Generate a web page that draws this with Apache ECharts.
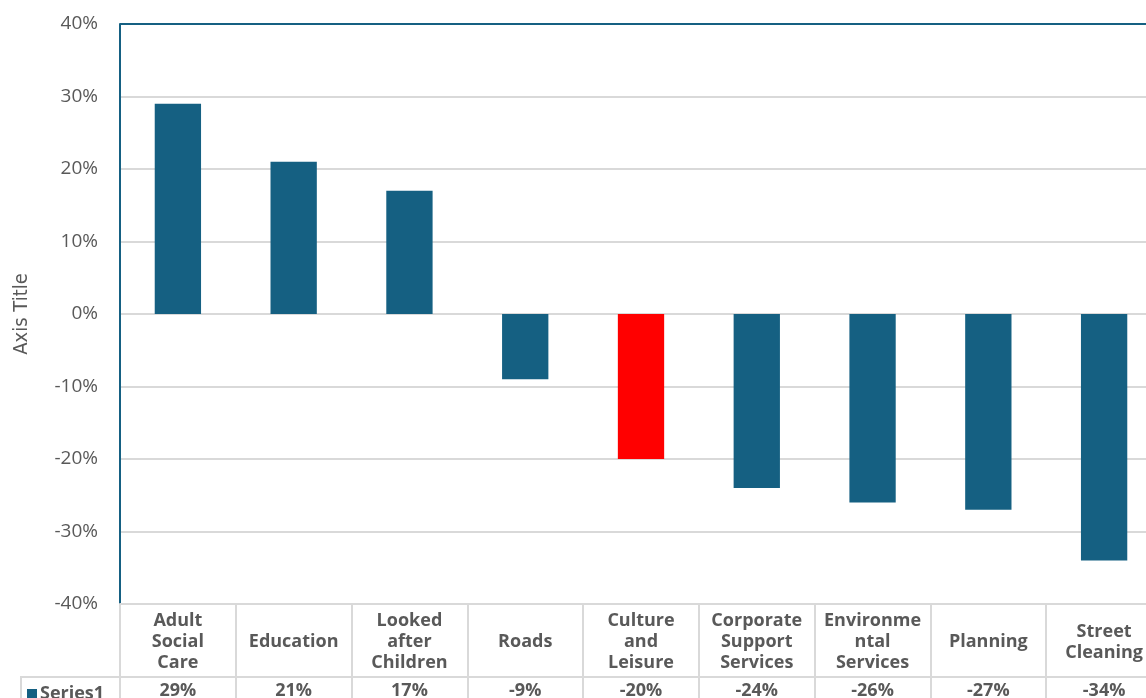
<!DOCTYPE html>
<html><head><meta charset="utf-8">
<script src="https://cdn.jsdelivr.net/npm/echarts@6/dist/echarts.min.js"></script>
<style>html,body{margin:0;padding:0;background:#fff;}#c{width:1146px;height:698px;}</style>
</head><body><div id="c"></div>
<script>
const categories = ['Adult\nSocial\nCare','Education','Looked\nafter\nChildren','Roads','Culture\nand\nLeisure','Corporate\nSupport\nServices','Environme\nntal\nServices','Planning','Street\nCleaning'];
const values = [0.29, 0.21, 0.17, -0.09, -0.20, -0.24, -0.26, -0.27, -0.34];
const seriesName = 'Series1';
const highlightIndex = 4;
const yTicks = { min: -0.4, max: 0.4, interval: 0.1 };

const BLUE = '#156082', RED = '#ff0000', GRID = '#d9d9d9', TXT = '#595959';
const pct = v => Math.round(v * 100) + '%';
const chart = echarts.init(document.getElementById('c'), null, {renderer: 'canvas'});
const splitColors = [];
for (let v = yTicks.min; v <= yTicks.max + 1e-9; v += yTicks.interval) splitColors.push(GRID);
splitColors[splitColors.length - 1] = BLUE;

chart.setOption({
  animation: false,
  grid: { left: 120, top: 24, bottom: 94, right: -16, containLabel: false, outerBoundsMode: 'none' },
  legend: {
    data: [{ name: seriesName, itemStyle: { color: BLUE } }], left: 22, top: 680, itemWidth: 10, itemHeight: 10, icon: 'rect', itemGap: 0,
    textStyle: { fontFamily: 'Open Sans', fontWeight: 'bold', fontSize: 18, color: TXT, padding: [0,0,0,-2] }
  },
  xAxis: [{
    type: 'category', data: categories, position: 'bottom',
    axisLine: { show: true, onZero: false, lineStyle: { color: GRID, width: 2 } },
    axisTick: { show: true, length: 100, lineStyle: { color: GRID, width: 2 } },
    axisLabel: { interval: 0, margin: 38, verticalAlign: 'middle', fontFamily: 'Open Sans', fontWeight: 'bold', fontSize: 18, lineHeight: 21, color: TXT, align: 'center' },
    splitLine: { show: false }
  }, {
    type: 'category', data: values.map(pct), position: 'bottom', offset: 73,
    axisLine: { show: true, onZero: false, lineStyle: { color: GRID, width: 2 } },
    axisTick: { show: false },
    axisLabel: { interval: 0, margin: 14, verticalAlign: 'middle', fontFamily: 'Open Sans', fontWeight: 'bold', fontSize: 18, color: TXT }
  }],
  yAxis: {
    type: 'value', min: yTicks.min, max: yTicks.max, interval: yTicks.interval,
    name: 'Axis Title', nameLocation: 'middle', nameGap: 88, nameRotate: 90,
    nameTextStyle: { fontFamily: 'Liberation Sans Narrow, DejaVu Sans Condensed, sans-serif', fontSize: 20, color: TXT },
    axisLine: { show: true, lineStyle: { color: BLUE, width: 2 } },
    axisTick: { show: false },
    axisLabel: { formatter: pct, margin: 22, fontFamily: 'Open Sans', fontSize: 19, color: TXT },
    splitLine: { show: true, lineStyle: { color: splitColors, width: 2 } }
  },
  series: [{
    name: seriesName, type: 'bar', data: values, barWidth: '40%',
    itemStyle: { color: p => p.dataIndex === highlightIndex ? RED : BLUE }
  }],
  graphic: [
    { type: 'line', shape: { x1: 20, y1: 677, x2: 120, y2: 677 }, style: { stroke: GRID, lineWidth: 2 } },
    { type: 'line', shape: { x1: 21, y1: 677, x2: 21, y2: 698 }, style: { stroke: GRID, lineWidth: 2 } }
  ]
});
</script></body></html>
